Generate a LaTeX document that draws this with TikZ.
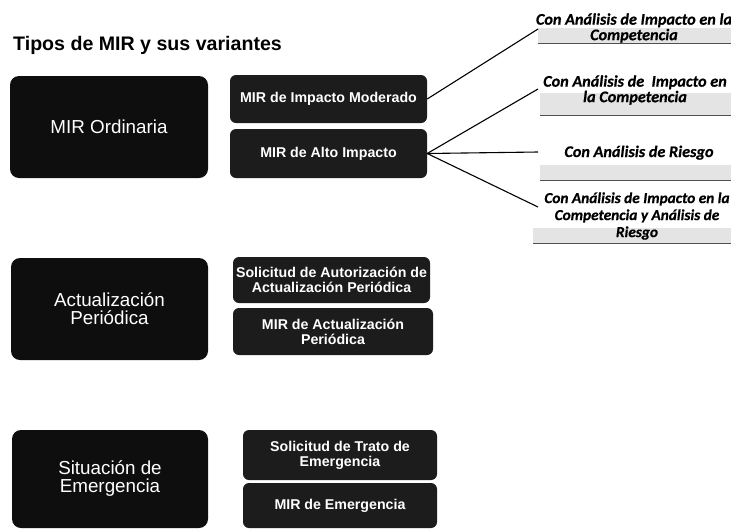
\documentclass[tikz,border=0pt]{standalone}
\usepackage{fontspec}
\setmainfont{Liberation Sans}
\newfontfamily\calfont[BoldItalicFeatures={FakeBold=0.6}]{Carlito}
\definecolor{boxdark}{HTML}{0E0E0E}
\definecolor{boxmid}{HTML}{1C1C1C}
\definecolor{bandgray}{HTML}{E4E4E4}
\definecolor{bandline}{HTML}{505050}
\begin{document}
\begin{tikzpicture}[x=1pt,y=-1pt,
  bigbox/.style={fill=boxdark, rounded corners=9pt, text=white,
    font=\fontsize{18.8}{18}\selectfont, align=center, inner sep=0pt},
  smallbox/.style={fill=boxmid, rounded corners=6pt, text=white,
    font=\bfseries\fontsize{14.2}{15}\selectfont, align=center, inner sep=0pt},
  lab/.style={font=\calfont\bfseries\itshape\fontsize{16.2}{15.5}\selectfont,
    align=center, inner sep=0pt},
  labs/.style={font=\calfont\bfseries\itshape\fontsize{15.3}{17}\selectfont,
    align=center, inner sep=0pt},
  conn/.style={draw=black, line width=1.1pt},
  bandbar/.style={fill=bandgray},
  bandedge/.style={draw=bandline, line width=1pt}]
\useasboundingbox (0,0) rectangle (731,531);
\fill[white] (0,0) rectangle (731,531);

% title
\node[anchor=base west, inner sep=0pt, font=\bfseries\fontsize{19.6}{20}\selectfont] (title) at (13,50) {Tipos de MIR y sus variantes};

% left big boxes
\node[bigbox, minimum width=198pt, minimum height=102pt] (ord) at (109,127) {MIR Ordinaria};
\node[bigbox, minimum width=197pt, minimum height=102pt] (act) at (109.5,309) {Actualización\\Periódica};
\node[bigbox, minimum width=196pt, minimum height=98pt] (sit) at (110,479) {Situación de\\Emergencia};

% small boxes
\node[smallbox, minimum width=197pt, minimum height=48pt] (mod) at (328.5,99) {MIR de Impacto Moderado};
\node[smallbox, minimum width=197pt, minimum height=49pt] (alto) at (328.5,153.5) {MIR de Alto Impacto};
\node[smallbox, minimum width=197pt, minimum height=46pt] (sol1) at (331.5,280) {Solicitud de Autorización de\\Actualización Periódica};
\node[smallbox, minimum width=200pt, minimum height=47pt] (mact) at (333,331.5) {MIR de Actualización\\Periódica};
\node[smallbox, minimum width=194pt, minimum height=50pt] (sol2) at (340,455) {Solicitud de Trato de\\Emergencia};
\node[smallbox, minimum width=194pt, minimum height=45pt] (memg) at (340,505.5) {MIR de Emergencia};

% bands under the right labels
\fill[bandbar] (538,28) rectangle (731,43);
\draw[bandedge] (538,43) -- (731,43);
\fill[bandbar] (540,93) rectangle (731,115);
\draw[bandedge] (540,115) -- (731,115);
\fill[bandbar] (540,165) rectangle (731,180);
\draw[bandedge] (540,180) -- (731,180);
\fill[bandbar] (533,228) rectangle (731,243);
\draw[bandedge] (533,243) -- (731,243);

% right labels
\node[lab] (l1) at (634,28) {Con Análisis de Impacto en la\\Competencia};
\node[lab] (l2) at (635,90) {Con Análisis de \ Impacto en\\la Competencia};
\node[lab, anchor=base] (l3) at (639,157) {Con Análisis de Riesgo};
\node[labs] (l4) at (637,216) {Con Análisis de Impacto en la\\Competencia y Análisis de\\Riesgo};

% connector end points
\coordinate (e1) at (538,29);
\coordinate (e2) at (538,89);
\coordinate (e3) at (538,152);
\coordinate (e4) at (538,207);

\draw[conn] (mod.east) -- (e1);
\draw[conn] (alto.east) -- (e2);
\draw[conn] (alto.east) -- (e3);
\draw[conn] (alto.east) -- (e4);
\end{tikzpicture}
\end{document}
